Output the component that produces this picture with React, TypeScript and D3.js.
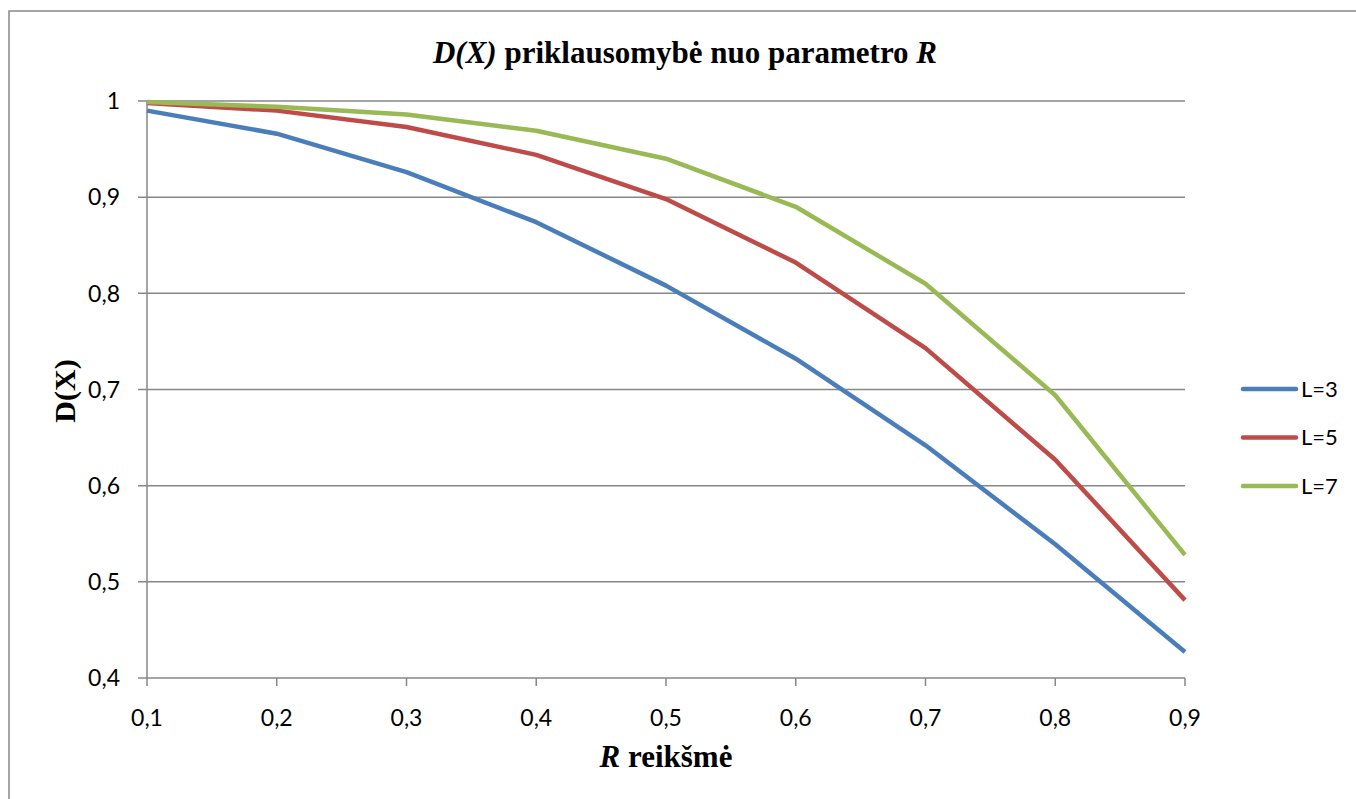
import React from "react";
import * as d3 from "d3";

const rValues = [0.1, 0.2, 0.3, 0.4, 0.5, 0.6, 0.7, 0.8, 0.9];
const seriesL3 = [0.99, 0.966, 0.926, 0.874, 0.808, 0.732, 0.642, 0.539, 0.427];
const seriesL5 = [0.998, 0.99, 0.973, 0.944, 0.898, 0.832, 0.743, 0.627, 0.481];
const seriesL7 = [0.999, 0.994, 0.986, 0.969, 0.94, 0.89, 0.81, 0.694, 0.528];
const seriesNames = ["L=3", "L=5", "L=7"];
const yTicks = [0.4, 0.5, 0.6, 0.7, 0.8, 0.9, 1];
const xTicks = rValues;

const colors = ["#4A7EBB", "#BE4B48", "#98B954"];
const fmt = (v: number) => (Number.isInteger(v) ? String(v) : String(v).replace(".", ","));

export default function App() {
  const W = 1356, H = 799;
  const left = 147, right = 1185, top = 101, bottom = 678;
  const x = d3.scaleLinear().domain([0.1, 0.9]).range([left, right]);
  const y = d3.scaleLinear().domain([0.4, 1]).range([bottom, top]);
  const series = [seriesL3, seriesL5, seriesL7];
  const line = d3
    .line<number>()
    .x((_, i) => x(rValues[i]))
    .y((d) => y(d));
  const tickFont = "Lato, 'Open Sans', sans-serif";
  const serif = "'Liberation Serif', 'Times New Roman', serif";
  return (
    <svg width={W} height={H} style={{ position: "absolute", left: 0, top: 0 }}>
      <rect x={0} y={0} width={W} height={H} fill="#fff" />
      <rect x={9} y={11} width={W + 20} height={H + 20} fill="#fff" stroke="#888" strokeWidth={1.5} />
      {/* gridlines */}
      {yTicks.map((t) => (
        <line key={"g" + t} x1={left - 9} x2={right} y1={y(t)} y2={y(t)} stroke="#878787" strokeWidth={1.5} />
      ))}
      {/* y axis */}
      <line x1={left} x2={left} y1={top} y2={bottom} stroke="#878787" strokeWidth={1.5} />
      {/* x ticks */}
      {xTicks.map((t) => (
        <line key={"xt" + t} x1={x(t)} x2={x(t)} y1={bottom} y2={bottom + 8} stroke="#878787" strokeWidth={1.5} />
      ))}
      {/* y tick labels */}
      {yTicks.map((t) => (
        <text key={"yl" + t} x={120} y={y(t)} dy="0.36em" textAnchor="end" fontFamily={tickFont} fontSize={23} fill="#000">
          {fmt(t)}
        </text>
      ))}
      {/* x tick labels */}
      {xTicks.map((t) => (
        <text key={"xl" + t} x={x(t)} y={718} dy="0.36em" textAnchor="middle" fontFamily={tickFont} fontSize={23} fill="#000">
          {fmt(t)}
        </text>
      ))}
      {/* series */}
      {series.map((s, i) => (
        <path key={"s" + i} d={line(s) || ""} fill="none" stroke={colors[i]} strokeWidth={4.5} strokeLinejoin="round" />
      ))}
      {/* title */}
      <text x={685} y={63} textAnchor="middle" fontFamily={serif} fontWeight="bold" fontSize={31} fill="#000">
        <tspan fontStyle="italic">D(X)</tspan>
        <tspan> priklausomybė nuo parametro </tspan>
        <tspan fontStyle="italic">R</tspan>
      </text>
      {/* x axis title */}
      <text x={666} y={767} textAnchor="middle" fontFamily={serif} fontWeight="bold" fontSize={31} fill="#000">
        <tspan fontStyle="italic">R</tspan>
        <tspan> reikšmė</tspan>
      </text>
      {/* y axis title */}
      <text transform="translate(75,391) rotate(-90)" textAnchor="middle" fontFamily={serif} fontWeight="bold" fontSize={30} fill="#000">
        D(X)
      </text>
      {/* legend */}
      {seriesNames.map((n, i) => (
        <g key={"lg" + i} transform={`translate(0,${389 + i * 48.5})`}>
          <line x1={1243} x2={1296} y1={0} y2={0} stroke={colors[i]} strokeWidth={4.5} strokeLinecap="round" />
          <text x={1301} y={0} dy="0.36em" fontFamily={tickFont} fontSize={22} fill="#000">
            {n}
          </text>
        </g>
      ))}
    </svg>
  );
}
